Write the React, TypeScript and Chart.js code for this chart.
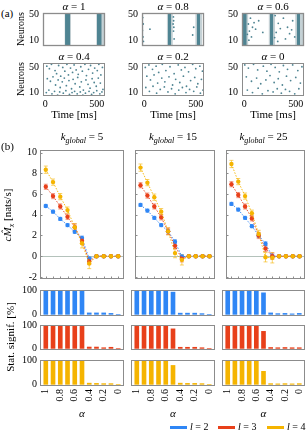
import React, { useEffect, useRef } from "react";
import { Chart, registerables } from "chart.js";
Chart.register(...registerables);

const SERIF = '"Liberation Serif", "DejaVu Serif", "Times New Roman", serif';

// ---------- data ----------
const ALPHA = [1, 0.9, 0.8, 0.7, 0.6, 0.5, 0.4, 0.3, 0.2, 0.1, 0];
const ALPHA_TICKS = [1, 0.8, 0.6, 0.4, 0.2, 0];
const MX_TICKS = [-2, 0, 2, 4, 6, 8, 10];
const SIG_TICKS = [0, 100];
const TIME_TICKS = [0, 500];
const NEURON_TICKS = [10, 50];
const K_GLOBAL = [5, 15, 25];

const K5_L2 = [4.85, 4.3, 3.6, 3.0, 2.35, 1.75, -0.25, 0, 0, 0, 0];
const K5_L3 = [6.7, 5.8, 4.8, 3.8, 2.8, 1.5, -0.5, 0, 0, 0, 0];
const K5_L4 = [8.35, 7.15, 5.75, 4.45, 2.8, 1.25, -0.7, 0, 0, 0, 0];
const K15_L2 = [4.95, 4.4, 3.7, 3.0, 2.4, 1.4, -0.05, 0, 0, 0, 0];
const K15_L3 = [6.85, 5.85, 4.8, 3.75, 2.4, 1.0, -0.25, 0, 0, 0, 0];
const K15_L4 = [8.55, 7.1, 5.7, 4.3, 2.4, 0.3, -0.35, 0, 0, 0, 0];
const K25_L2 = [5.05, 4.5, 3.7, 2.9, 2.0, 1.2, 0, 0, 0, 0, 0];
const K25_L3 = [6.95, 5.9, 4.8, 3.65, 2.0, 0.75, 0, 0, 0, 0, 0];
const K25_L4 = [8.9, 7.2, 5.8, 4.15, 2.15, -0.1, -0.15, 0, 0, 0, 0];

const ERR_L2 = [0.15, 0.15, 0.15, 0.15, 0.15, 0.2, 0.2, 0.05, 0.05, 0.05, 0.05];
const ERR_L3 = [0.25, 0.25, 0.25, 0.25, 0.3, 0.3, 0.3, 0.05, 0.05, 0.05, 0.05];
const ERR_L4 = [0.35, 0.3, 0.3, 0.3, 0.35, 0.45, 0.5, 0.05, 0.05, 0.05, 0.05];

const SIG_K5_L2 = [100, 100, 100, 100, 100, 100, 6, 6, 6, 4, 0];
const SIG_K5_L3 = [100, 100, 100, 100, 100, 97, 6, 6, 3, 5, 0];
const SIG_K5_L4 = [100, 100, 100, 100, 100, 100, 5, 4, 3, 3, 0];
const SIG_K15_L2 = [100, 100, 100, 100, 100, 94, 5, 5, 5, 3, 0];
const SIG_K15_L3 = [100, 100, 100, 100, 100, 86, 5, 5, 5, 3, 0];
const SIG_K15_L4 = [100, 100, 100, 100, 100, 80, 5, 4, 4, 3, 0];
const SIG_K25_L2 = [100, 100, 100, 100, 100, 91, 6, 3, 4, 2, 4];
const SIG_K25_L3 = [100, 100, 100, 100, 100, 75, 4, 3, 4, 3, 3];
const SIG_K25_L4 = [100, 100, 100, 100, 100, 55, 3, 2, 3, 2, 3];

// raster: synchronous bursts [start ms, end ms] and scattered spikes [ms, neuron]
const BAND_A1 = [[192, 242], [500, 548]];
const HALO_A1 = [[186, 250], [495, 580]];
const BAND_A08 = [[230, 262], [510, 542]];
const HALO_A08 = [[-22, -8], [218, 278], [495, 562]];
const BAND_A06 = [[-12, 24], [250, 282], [510, 542]];
const HALO_A06 = [[-22, 40], [236, 300], [494, 572]];

const SPIKES_A1: number[][] = [];
const SPIKES_A08 = [[-15, 45], [-10, 35], [-18, 25], [-12, 15], [-8, 8], [55, 27], [283, 46], [285, 40], [280, 35], [287, 30], [284, 24], [290, 12], [480, 30], [470, 18]];
const SPIKES_A06 = [[60, 44], [95, 37], [40, 35], [80, 30], [50, 24], [30, 19], [70, 15], [45, 10], [110, 27], [140, 40], [180, 22], [300, 48], [330, 36], [350, 28], [310, 22], [295, 14], [325, 8], [380, 44], [420, 30], [440, 20], [400, 12], [470, 40], [460, 26], [490, 15]];
const SPIKES_A04 = [[15, 52], [40, 48], [60, 55], [95, 45], [110, 40], [130, 53], [150, 36], [170, 50], [190, 44], [210, 55], [225, 38], [245, 49], [265, 42], [280, 54], [300, 46], [320, 39], [345, 51], [360, 44], [385, 55], [400, 37], [420, 47], [440, 53], [460, 41], [480, 49], [505, 45], [520, 55], [540, 38], [555, 50],
  [20, 32], [50, 28], [75, 35], [100, 22], [125, 30], [145, 18], [165, 27], [185, 33], [205, 21], [230, 29], [255, 16], [270, 31], [290, 24], [315, 34], [335, 19], [350, 27], [370, 14], [395, 30], [415, 23], [435, 17], [455, 32], [475, 26], [495, 20], [515, 33], [535, 25], [560, 15],
  [10, 10], [35, 14], [65, 8], [90, 12], [120, 6], [140, 11], [175, 9], [200, 13], [235, 7], [260, 10], [285, 12], [310, 8], [340, 11], [365, 6], [390, 9], [425, 12], [450, 7], [470, 10], [500, 13], [530, 8], [550, 11]];
const SPIKES_A02 = [[10, 50], [45, 54], [80, 47], [115, 52], [140, 42], [175, 55], [210, 45], [250, 51], [290, 40], [330, 54], [360, 46], [395, 50], [430, 43], [470, 55], [500, 48], [540, 52], [565, 44],
  [25, 36], [60, 30], [95, 38], [130, 25], [170, 33], [200, 27], [240, 35], [275, 22], [305, 31], [345, 26], [380, 36], [410, 20], [450, 29], [490, 34], [520, 24], [555, 31],
  [15, 18], [50, 12], [85, 20], [120, 9], [155, 15], [195, 19], [230, 11], [265, 16], [300, 8], [335, 14], [370, 18], [405, 10], [440, 15], [480, 12], [510, 19], [545, 9], [570, 14]];
const SPIKES_A0 = [[5, 54], [40, 49], [90, 55], [130, 46], [185, 52], [220, 44], [260, 55], [300, 50], [340, 43], [380, 53], [420, 47], [470, 54], [520, 45], [560, 51],
  [20, 35], [70, 28], [120, 33], [160, 24], [210, 30], [250, 37], [290, 26], [330, 32], [370, 22], [410, 36], [450, 29], [500, 34], [545, 25],
  [30, 14], [80, 10], [135, 17], [175, 8], [230, 13], [280, 11], [320, 16], [360, 9], [400, 15], [440, 12], [490, 8], [530, 16]];

// ---------- styles ----------
const C2 = "#2f86f5", C3 = "#e8401a", C4 = "#f5b400";
const E2 = "rgba(47,134,245,0.5)", E3 = "rgba(232,64,26,0.5)", E4 = "rgba(245,180,0,0.6)";
const TEAL = "#4f8492";
const HALO = "rgba(150,172,178,0.55)";
const FRAME = "#8c8c8c";
const P = 8;
const X_MIN = -0.08, X_MAX = 1.08;

const framePlugin = {
  id: "frame",
  afterDraw(chart: any, _a: any, opts: any) {
    const { ctx, chartArea: a } = chart;
    ctx.save();
    ctx.strokeStyle = opts.color || FRAME;
    ctx.lineWidth = opts.width || 1;
    ctx.strokeRect(a.left + 0.5, a.top + 0.5, a.right - a.left - 1, a.bottom - a.top - 1);
    ctx.restore();
  },
};

const innerTicksPlugin = {
  id: "innerTicks",
  afterDraw(chart: any, _a: any, opts: any) {
    const { ctx, chartArea: a, scales } = chart;
    ctx.save();
    ctx.strokeStyle = FRAME;
    ctx.lineWidth = 1;
    ctx.beginPath();
    (opts.x || []).forEach((v: number) => {
      const px = Math.round(scales.x.getPixelForValue(v)) + 0.5;
      ctx.moveTo(px, a.bottom);
      ctx.lineTo(px, a.bottom - 2.5);
    });
    (opts.y || []).forEach((v: number) => {
      const py = Math.round(scales.y.getPixelForValue(v)) + 0.5;
      ctx.moveTo(a.left, py);
      ctx.lineTo(a.left + 2.5, py);
    });
    ctx.stroke();
    ctx.restore();
  },
};

const errorBarsPlugin = {
  id: "errorBars",
  beforeDatasetsDraw(chart: any) {
    const { ctx, scales } = chart;
    ctx.save();
    chart.data.datasets.forEach((ds: any, i: number) => {
      if (!ds.errors) return;
      const meta = chart.getDatasetMeta(i);
      ctx.strokeStyle = ds.errorColor;
      ctx.lineWidth = 1;
      meta.data.forEach((pt: any, j: number) => {
        const v = ds.data[j].y, e = ds.errors[j];
        const y1 = scales.y.getPixelForValue(v + e);
        const y2 = scales.y.getPixelForValue(v - e);
        ctx.beginPath();
        ctx.moveTo(pt.x, y1); ctx.lineTo(pt.x, y2);
        ctx.moveTo(pt.x - 2, y1); ctx.lineTo(pt.x + 2, y1);
        ctx.moveTo(pt.x - 2, y2); ctx.lineTo(pt.x + 2, y2);
        ctx.stroke();
      });
    });
    ctx.restore();
  },
};

const tickFont = { family: SERIF, size: 10 };
const noGrid = { display: false, drawTicks: false };
const setTicks = (vals: number[]) => (s: any) => { s.ticks = vals.map((v) => ({ value: v })); };
const fitY = (w: number) => (s: any) => { s.width = w; s.paddingTop = 0; s.paddingBottom = 0; };
const fitX = (h: number) => (s: any) => { s.height = h; s.paddingLeft = 0; s.paddingRight = 0; };

const baseOptions = {
  animation: false,
  responsive: false,
  devicePixelRatio: 1,
  layout: { padding: { left: 0, top: P, right: P, bottom: P } },
  events: [],
};

function topConfig(l2: number[], l3: number[], l4: number[], showY: boolean, padL: number) {
  const mk = (vals: number[], errs: number[], color: string, ec: string) => ({
    data: ALPHA.map((a, i) => ({ x: a, y: vals[i] })),
    borderColor: color, backgroundColor: color, borderWidth: 0.9, borderDash: [1.5, 1.5],
    pointRadius: 2.2, pointBorderWidth: 0, errors: errs, errorColor: ec,
  });
  return {
    type: "line",
    data: { datasets: [mk(l4, ERR_L4, C4, E4), mk(l3, ERR_L3, C3, E3), mk(l2, ERR_L2, C2, E2)] },
    options: {
      ...baseOptions,
      plugins: { legend: { display: false }, tooltip: { enabled: false }, frame: { color: FRAME }, innerTicks: { x: ALPHA, y: MX_TICKS } },
      scales: {
        x: { type: "linear", reverse: true, min: X_MIN, max: X_MAX, display: false, offset: false },
        y: {
          min: -2.2, max: 10.25, afterBuildTicks: setTicks(MX_TICKS), afterFit: fitY(padL),
          ticks: { display: showY, font: tickFont, color: "#000", padding: 3 },
          grid: { drawTicks: false, lineWidth: 1, color: (c: any) => (c.tick && c.tick.value === 0 ? "#b4c2bb" : "rgba(0,0,0,0)") },
          border: { display: false },
        },
      },
    },
    plugins: [errorBarsPlugin, framePlugin, innerTicksPlugin],
  };
}

function barConfig(vals: number[], color: string, showY: boolean, showX: boolean, padL: number, padB: number) {
  return {
    type: "bar",
    data: { datasets: [{ data: ALPHA.map((a, i) => ({ x: a, y: vals[i] })), backgroundColor: color, barThickness: 4, borderWidth: 0 }] },
    options: {
      ...baseOptions,
      plugins: { legend: { display: false }, tooltip: { enabled: false }, frame: { color: FRAME } },
      scales: {
        x: {
          type: "linear", reverse: true, min: X_MIN, max: X_MAX, offset: false, display: showX,
          afterBuildTicks: setTicks(ALPHA_TICKS), afterFit: fitX(padB),
          ticks: { autoSkip: false, minRotation: 90, maxRotation: 90, font: tickFont, color: "#000", padding: 3, callback: (v: any) => String(v) },
          grid: { ...noGrid, offset: false }, border: { display: false },
        },
        y: {
          min: -7, max: 103, display: showY, afterBuildTicks: setTicks(SIG_TICKS), afterFit: fitY(padL),
          ticks: { font: tickFont, color: "#000", padding: 3 },
          grid: noGrid, border: { display: false },
        },
      },
    },
    plugins: [framePlugin],
  };
}

function rasterConfig(spikes: number[][], bands: number[][], halos: number[][], yMin: number, yMax: number, showX: boolean, padL: number, padB: number, fw: number) {
  const bandDs = (list: number[][], color: string) =>
    list.map(([a, b]) => ({ type: "line", data: [{ x: a, y: yMax }, { x: b, y: yMax }], fill: { value: yMin }, backgroundColor: color, borderWidth: 0, pointRadius: 0 }));
  return {
    type: "scatter",
    data: {
      datasets: [
        { data: spikes.map(([t, n]) => ({ x: t, y: n })), pointRadius: 0.9, backgroundColor: TEAL, borderWidth: 0 },
        ...bandDs(bands, TEAL),
        ...bandDs(halos, HALO),
      ],
    },
    options: {
      ...baseOptions,
      plugins: { legend: { display: false }, tooltip: { enabled: false }, frame: { color: FRAME, width: fw } },
      scales: {
        x: {
          type: "linear", min: -22, max: 580, display: showX, afterBuildTicks: setTicks(TIME_TICKS), afterFit: fitX(padB),
          ticks: { font: tickFont, color: "#000", padding: 2, maxRotation: 0 },
          grid: noGrid, border: { display: false },
        },
        y: {
          min: yMin, max: yMax, afterBuildTicks: setTicks(NEURON_TICKS), afterFit: fitY(padL),
          ticks: { font: tickFont, color: "#000", padding: 4 },
          grid: noGrid, border: { display: false },
        },
      },
    },
    plugins: [framePlugin],
  };
}

function ChartBox({ box, padL = 0, padB = 0, config }: any) {
  const ref = useRef<HTMLCanvasElement>(null);
  const [x0, y0, x1, y1] = box;
  const w = x1 - x0 + padL + P;
  const h = y1 - y0 + padB + 2 * P;
  useEffect(() => {
    const chart = new Chart(ref.current as any, config as any);
    return () => chart.destroy();
  }, []);
  return <canvas ref={ref} width={w} height={h} style={{ position: "absolute", left: x0 - padL, top: y0 - P, width: w, height: h }} />;
}

function Txt({ x, y, size = 11, rotate = false, align = "center", children }: any) {
  const tr = align === "left" ? "translate(0,-50%)" : "translate(-50%,-50%)";
  return (
    <div style={{ position: "absolute", left: x, top: y, transform: tr + (rotate ? " rotate(-90deg)" : ""), fontFamily: SERIF, fontSize: size, whiteSpace: "nowrap", lineHeight: 1, color: "#000" }}>
      {children}
    </div>
  );
}

const RCOLS = [[43, 105], [142, 204], [242, 304]];
const RROWS = [[13, 46], [63, 96]];
const BCOLS = [[40, 124], [131, 215], [222, 305]];
const TOPROW = [150, 279];
const BARROWS = [[290, 316], [325, 350], [360, 386]];

export default function App() {
  const rasters = [
    { spikes: SPIKES_A1, bands: BAND_A1, halos: HALO_A1, label: "1" },
    { spikes: SPIKES_A08, bands: BAND_A08, halos: HALO_A08, label: "0.8" },
    { spikes: SPIKES_A06, bands: BAND_A06, halos: HALO_A06, label: "0.6" },
    { spikes: SPIKES_A04, bands: [], halos: [], label: "0.4" },
    { spikes: SPIKES_A02, bands: [], halos: [], label: "0.2" },
    { spikes: SPIKES_A0, bands: [], halos: [], label: "0" },
  ];
  const tops = [[K5_L2, K5_L3, K5_L4], [K15_L2, K15_L3, K15_L4], [K25_L2, K25_L3, K25_L4]];
  const sigs = [
    [SIG_K5_L2, SIG_K5_L3, SIG_K5_L4],
    [SIG_K15_L2, SIG_K15_L3, SIG_K15_L4],
    [SIG_K25_L2, SIG_K25_L3, SIG_K25_L4],
  ];
  const colors = [C2, C3, C4];
  return (
    <div style={{ position: "absolute", left: 0, top: 0, width: 307, height: 432, background: "#fff", overflow: "hidden" }}>
      {/* panel (a) */}
      <Txt x={1} y={13} align="left">(a)</Txt>
      {rasters.map((r, i) => {
        const row = Math.floor(i / 3), col = i % 3;
        const [x0, x1] = RCOLS[col];
        const [y0, y1] = RROWS[row];
        const yMin = row === 0 ? 1 : 4.5, yMax = row === 0 ? 52 : 57;
        const showX = row === 1;
        return (
          <React.Fragment key={"r" + i}>
            <ChartBox box={[x0, y0, x1, y1]} padL={20} padB={showX ? 14 : 0}
              config={rasterConfig(r.spikes, r.bands, r.halos, yMin, yMax, showX, 20, showX ? 14 : 0, row === 0 ? 1.3 : 1)} />
            <Txt x={(x0 + x1) / 2} y={y0 - 7}><i>α</i> = {r.label}</Txt>
          </React.Fragment>
        );
      })}
      <Txt x={21} y={29} size={10} rotate>Neurons</Txt>
      <Txt x={21} y={79} size={10} rotate>Neurons</Txt>
      {RCOLS.map(([x0, x1], i) => (
        <Txt key={"t" + i} x={(x0 + x1) / 2} y={114}>Time [ms]</Txt>
      ))}

      {/* panel (b) */}
      <Txt x={1} y={146} align="left">(b)</Txt>
      {BCOLS.map(([x0, x1], c) => (
        <React.Fragment key={"b" + c}>
          <Txt x={(x0 + x1) / 2} y={138}>
            <i>k</i><sub style={{ fontSize: 8, fontStyle: "italic", verticalAlign: "-3px" }}>global</sub> = {K_GLOBAL[c]}
          </Txt>
          <ChartBox box={[x0, TOPROW[0], x1, TOPROW[1]]} padL={c === 0 ? 20 : 0}
            config={topConfig(tops[c][0], tops[c][1], tops[c][2], c === 0, c === 0 ? 20 : 0)} />
          {BARROWS.map(([y0, y1], r) => (
            <ChartBox key={"s" + r} box={[x0, y0, x1, y1]} padL={c === 0 ? 22 : 0} padB={r === 2 ? 22 : 0}
              config={barConfig(sigs[c][r], colors[r], c === 0, r === 2, c === 0 ? 22 : 0, r === 2 ? 22 : 0)} />
          ))}
          <Txt x={(x0 + x1) / 2} y={413}><i>α</i></Txt>
        </React.Fragment>
      ))}
      <Txt x={9} y={215} rotate>
        <i>c</i><i>M̂</i><sub style={{ fontSize: 8, fontStyle: "italic" }}>x</sub> [nats/s]
      </Txt>
      <Txt x={10} y={337} rotate>Stat. signif. [%]</Txt>

      {/* legend */}
      {[["2", C2, 170], ["3", C3, 218], ["4", C4, 267]].map(([lab, col, x]: any) => (
        <React.Fragment key={"l" + lab}>
          <div style={{ position: "absolute", left: x, top: 426, width: 17, height: 2.5, background: col }} />
          <Txt x={x + 20} y={427} size={10} align="left"><i>l</i> = {lab}</Txt>
        </React.Fragment>
      ))}
    </div>
  );
}
